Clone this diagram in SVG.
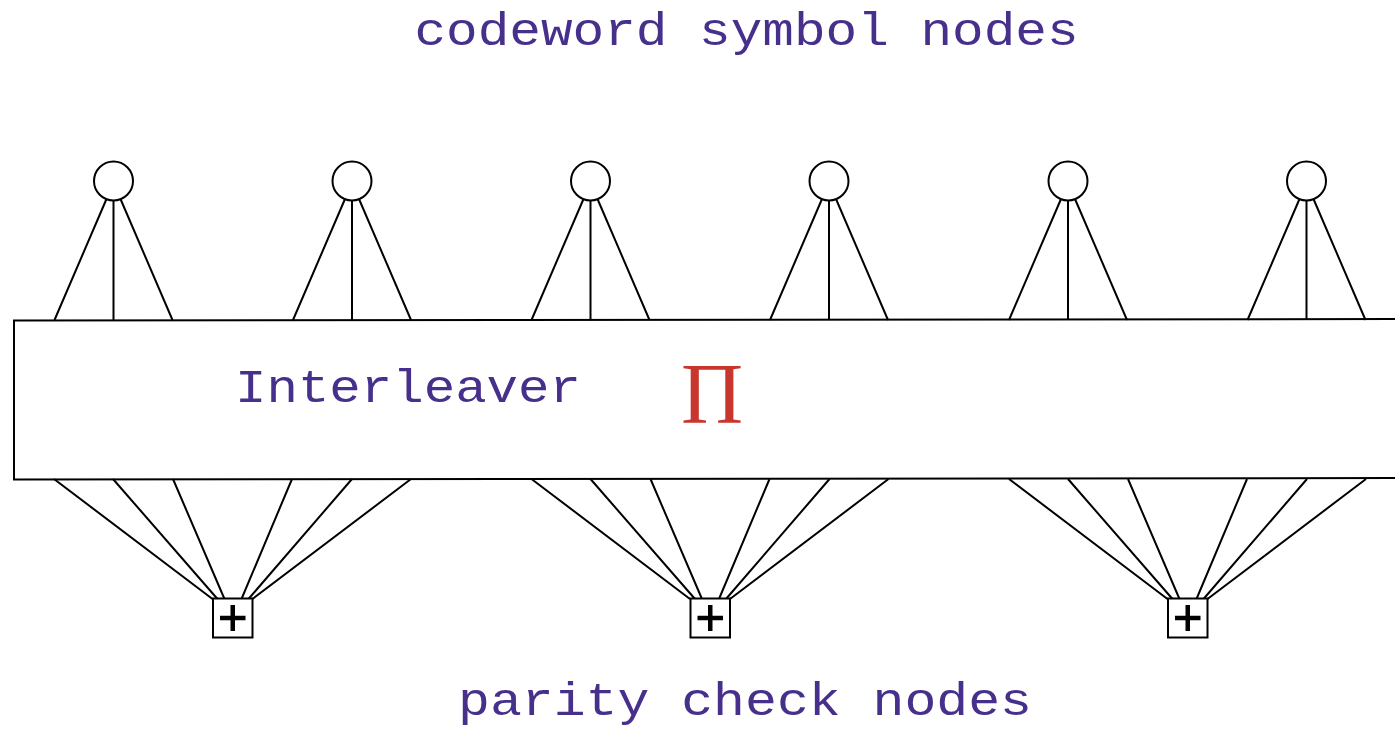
<svg xmlns="http://www.w3.org/2000/svg" width="1395" height="729" viewBox="0 0 1395 729">
<style>
.ln{stroke:#000;stroke-width:2;fill:none}
.sym{fill:#fff;stroke:#000;stroke-width:2}
.chk{fill:#fff;stroke:#000;stroke-width:2}
.plus{stroke:#000;stroke-width:4.5;fill:none}
.lbl{font-family:"Liberation Mono","Courier New",monospace;font-size:47px;fill:#47308c;text-anchor:middle}
.pi{font-family:"Liberation Serif","Times New Roman",serif;font-size:86px;fill:#c8372d;text-anchor:middle}
</style>
<defs>
<g id="fan">
<path class="ln" d="M-7,199 L-59,320 M0,200 L0,320 M7,199 L59,320"/>
</g>
<g id="pfan">
<path class="ln" d="M-178.5,479 L-20,599 M-119.5,479 L-15,599 M-59.5,479 L-8,599 M59.5,479 L9,599 M119.5,479 L16,599 M178.5,479 L20,599"/>
</g>
</defs>
<text class="lbl" x="746.5" y="45" textLength="664" lengthAdjust="spacingAndGlyphs">codeword symbol nodes</text>
<g id="connectors">
<use href="#fan" x="113.5"/>
<use href="#fan" x="352"/>
<use href="#fan" x="590.5"/>
<use href="#fan" x="829"/>
<use href="#fan" x="1068"/>
<use href="#fan" x="1306.5"/>
<use href="#pfan" x="232.5"/>
<use href="#pfan" x="710"/>
<use href="#pfan" x="1187.5"/>
</g>
<g id="interleaver">
<path class="ln" d="M1400,319 L14,320.5 L14,479.5 L1400,478" fill="#fff"/>
<text class="lbl" x="408" y="402" textLength="346" lengthAdjust="spacingAndGlyphs">Interleaver</text>
<text class="pi" x="712" y="423">Π</text>
</g>
<g id="sym1"><circle class="sym" cx="113.5" cy="181" r="19.5"/></g>
<g id="sym2"><circle class="sym" cx="352" cy="181" r="19.5"/></g>
<g id="sym3"><circle class="sym" cx="590.5" cy="181" r="19.5"/></g>
<g id="sym4"><circle class="sym" cx="829" cy="181" r="19.5"/></g>
<g id="sym5"><circle class="sym" cx="1068" cy="181" r="19.5"/></g>
<g id="sym6"><circle class="sym" cx="1306.5" cy="181" r="19.5"/></g>
<g id="chk1"><rect class="chk" x="213" y="598.5" width="39.5" height="39"/><path class="plus" d="M220,618 H245.5 M232.75,605 V631"/></g>
<g id="chk2"><rect class="chk" x="690.5" y="598.5" width="39.5" height="39"/><path class="plus" d="M697.5,618 H723 M710.25,605 V631"/></g>
<g id="chk3"><rect class="chk" x="1168" y="598.5" width="39.5" height="39"/><path class="plus" d="M1175,618 H1200.5 M1187.75,605 V631"/></g>
<text class="lbl" x="745" y="715" textLength="574" lengthAdjust="spacingAndGlyphs">parity check nodes</text>
</svg>
